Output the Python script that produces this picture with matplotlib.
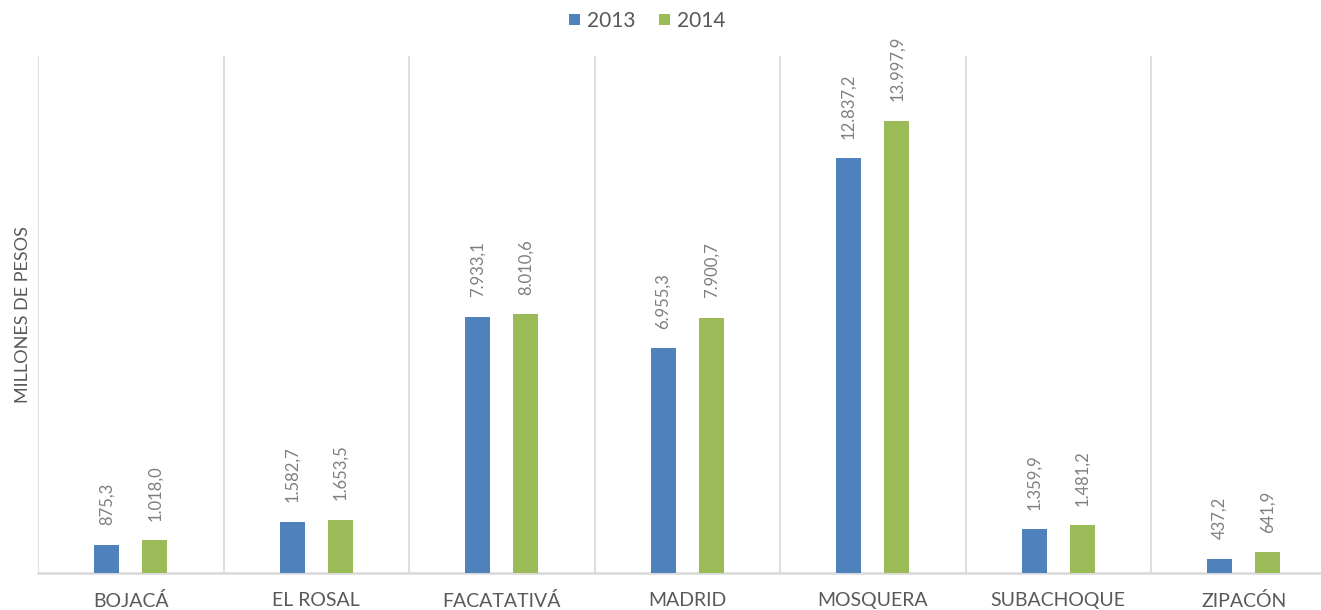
import numpy as np
import matplotlib.pyplot as plt

plt.rcParams['font.family'] = ['Lato', 'DejaVu Sans']

# data
municipios = ['BOJACÁ', 'EL ROSAL', 'FACATATIVÁ', 'MADRID', 'MOSQUERA', 'SUBACHOQUE', 'ZIPACÓN']
valores_2013 = [875.3, 1582.7, 7933.1, 6955.3, 12837.2, 1359.9, 437.2]
valores_2014 = [1018.0, 1653.5, 8010.6, 7900.7, 13997.9, 1481.2, 641.9]
series = ['2013', '2014']

COLOR_2013 = '#4F81BD'
COLOR_2014 = '#9BBB59'
GRIS_TEXTO = '#595959'
GRIS_ETIQ = '#7F7F7F'
GRIS_LINEA = '#D9D9D9'


def formato_es(v):
    """Formato con punto para miles y coma para decimales"""
    s = f'{v:,.1f}'
    return s.replace(',', 'X').replace('.', ',').replace('X', '.')


fig = plt.figure(figsize=(13.21, 6.10), dpi=100)
ax = fig.add_axes([38 / 1321, 37 / 610, 7 * 185.5 / 1321, 517 / 610])

x = np.arange(len(municipios)) + 0.5
ancho = 0.135
desp = 0.13

b1 = ax.bar(x - desp, valores_2013, ancho, color=COLOR_2013, label=series[0], zorder=3)
b2 = ax.bar(x + desp, valores_2014, ancho, color=COLOR_2014, label=series[1], zorder=3)

for barras, vals in ((b1, valores_2013), (b2, valores_2014)):
    for rect, v in zip(barras, vals):
        ax.annotate(formato_es(v),
                    xy=(rect.get_x() + rect.get_width() / 2, rect.get_height()),
                    xytext=(0, 14), textcoords='offset points',
                    rotation=90, ha='center', va='bottom',
                    fontsize=12, color=GRIS_ETIQ)

ax.set_xlim(0, len(municipios))
ax.set_ylim(0, 16000)

ax.set_xticks(x)
ax.set_xticklabels(municipios, fontsize=14, color=GRIS_TEXTO)
ax.set_xticks(np.arange(len(municipios) + 1), minor=True)
ax.tick_params(axis='x', which='both', length=0, pad=14)
ax.grid(axis='x', which='minor', color=GRIS_LINEA, linewidth=1.2, zorder=0)
ax.set_yticks([])

for lado in ('top', 'right', 'left'):
    ax.spines[lado].set_visible(False)
ax.spines['bottom'].set_color(GRIS_LINEA)
ax.spines['bottom'].set_linewidth(1.8)

ax.set_ylabel('MILLONES DE PESOS', fontsize=13, color=GRIS_TEXTO, labelpad=5)

fig.legend(loc='upper center', bbox_to_anchor=(0.49, 1.013), ncol=2, frameon=False,
           fontsize=15, handlelength=0.55, handleheight=0.45, handletextpad=0.35,
           columnspacing=1.1, labelcolor=GRIS_TEXTO)

fig.savefig('out.png', dpi=100)
